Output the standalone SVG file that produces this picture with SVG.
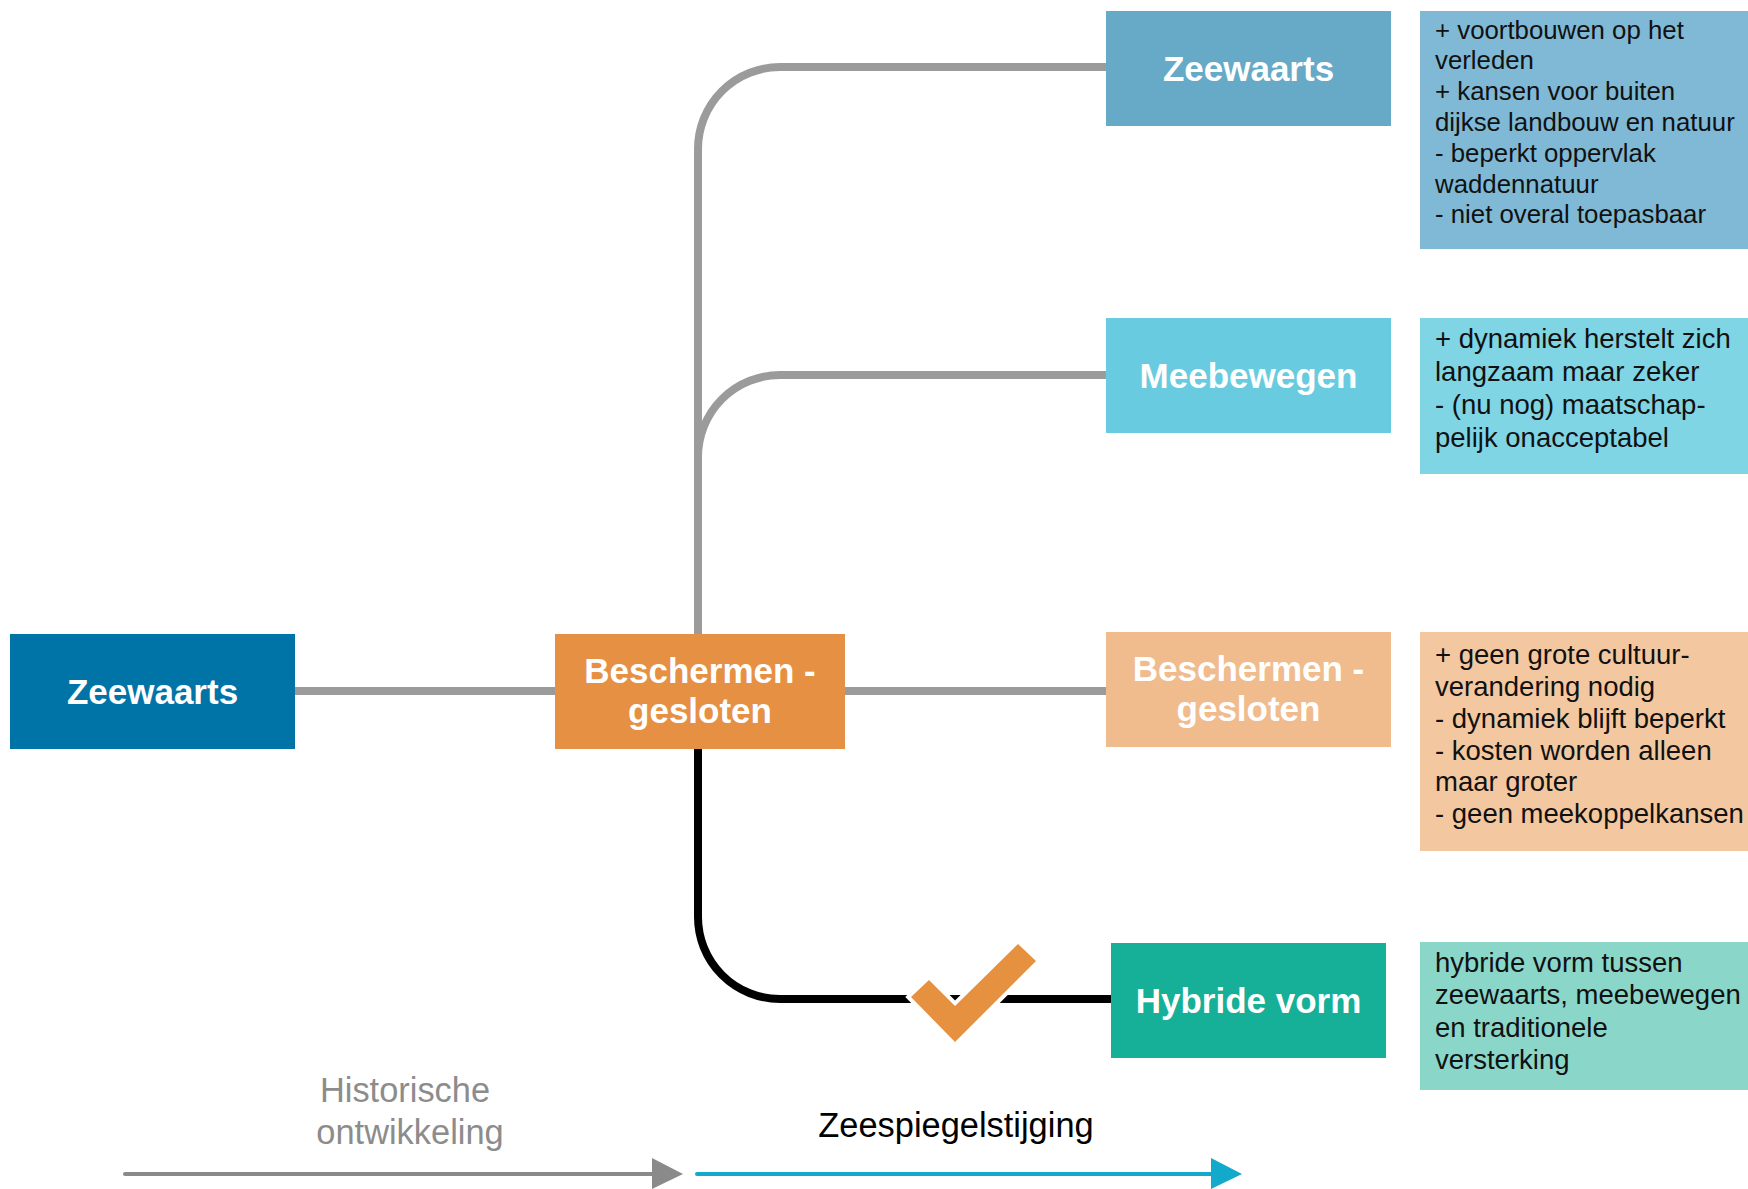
<svg xmlns="http://www.w3.org/2000/svg" width="1748" height="1189" viewBox="0 0 1748 1189">
  <style>
    .head { font-family: "Liberation Sans", Arial, sans-serif; font-weight: bold; font-size: 35px; fill: #ffffff; text-anchor: middle; }
    .body { font-family: "Liberation Sans", Arial, sans-serif; font-size: 27.5px; fill: #111111; }
    .body.small { font-size: 25.8px; }
    .link { fill: none; stroke: #9b9b9b; stroke-width: 8; }
    .chosen { fill: none; stroke: #000000; stroke-width: 8; }
    .axis { font-family: "Liberation Sans", Arial, sans-serif; font-size: 34.4px; text-anchor: middle; }
  </style>

  <rect width="1748" height="1189" fill="#ffffff"/>

  <!-- connectors -->
  <g id="connectors">
    <path class="link" d="M295,691 H555"/>
    <path class="link" d="M845,691 H1106"/>
    <path class="link" d="M698,634 V149 A82,82 0 0 1 780,67 H1106"/>
    <path class="link" d="M1106,375 H780 A82,82 0 0 0 698,457"/>
    <path class="chosen" d="M698,749 V917 A82,82 0 0 0 780,999 H1111"/>
  </g>

  <!-- check mark on the chosen route -->
  <g id="check">
    <polygon points="911,997 929,980 955,1006 1018,944 1036,961 955,1042" fill="#e69140" stroke="#ffffff" stroke-width="8" stroke-linejoin="miter" paint-order="stroke"/>
  </g>

  <!-- starting point -->
  <g id="start-zeewaarts">
    <rect x="10" y="634" width="285" height="115" fill="#0074a7"/>
    <text class="head" x="152.5" y="704">Zeewaarts</text>
  </g>

  <g id="current-beschermen">
    <rect x="555" y="634" width="290" height="115" fill="#e69043"/>
    <text class="head" x="700" y="683">Beschermen -</text>
    <text class="head" x="700" y="722.5">gesloten</text>
  </g>

  <!-- options -->
  <g id="opt-zeewaarts">
    <rect x="1106" y="11" width="285" height="115" fill="#66aac8"/>
    <text class="head" x="1248.5" y="81">Zeewaarts</text>
  </g>
  <g id="info-zeewaarts">
    <rect x="1420" y="11" width="328" height="238" fill="#80b9d5"/>
    <text class="body small" x="1435" y="38.5">+ voortbouwen op het</text>
    <text class="body small" x="1435" y="69.3">verleden</text>
    <text class="body small" x="1435" y="100.1">+ kansen voor buiten</text>
    <text class="body small" x="1435" y="130.9">dijkse landbouw en natuur</text>
    <text class="body small" x="1435" y="161.7">- beperkt oppervlak</text>
    <text class="body small" x="1435" y="192.5">waddennatuur</text>
    <text class="body small" x="1435" y="223.3">- niet overal toepasbaar</text>
  </g>

  <g id="opt-meebewegen">
    <rect x="1106" y="318" width="285" height="115" fill="#68cbdf"/>
    <text class="head" x="1248.5" y="388">Meebewegen</text>
  </g>
  <g id="info-meebewegen">
    <rect x="1420" y="318" width="328" height="156" fill="#80d5e5"/>
    <text class="body" x="1435" y="348">+ dynamiek herstelt zich</text>
    <text class="body" x="1435" y="381">langzaam maar zeker</text>
    <text class="body" x="1435" y="414">- (nu nog) maatschap-</text>
    <text class="body" x="1435" y="447">pelijk onacceptabel</text>
  </g>

  <g id="opt-beschermen">
    <rect x="1106" y="632" width="285" height="115" fill="#f0bc8e"/>
    <text class="head" x="1248.5" y="681">Beschermen -</text>
    <text class="head" x="1248.5" y="720.5">gesloten</text>
  </g>
  <g id="info-beschermen">
    <rect x="1420" y="632" width="328" height="219" fill="#f3c8a0"/>
    <text class="body" x="1435" y="664">+ geen grote cultuur-</text>
    <text class="body" x="1435" y="696">verandering nodig</text>
    <text class="body" x="1435" y="728">- dynamiek blijft beperkt</text>
    <text class="body" x="1435" y="759.5">- kosten worden alleen</text>
    <text class="body" x="1435" y="791">maar groter</text>
    <text class="body" x="1435" y="823">- geen meekoppelkansen</text>
  </g>

  <g id="opt-hybride">
    <rect x="1111" y="943" width="275" height="115" fill="#16af97"/>
    <text class="head" x="1248.5" y="1013">Hybride vorm</text>
  </g>
  <g id="info-hybride">
    <rect x="1420" y="942" width="328" height="148" fill="#8ad7c9"/>
    <text class="body" x="1435" y="972">hybride vorm tussen</text>
    <text class="body" x="1435" y="1004">zeewaarts, meebewegen</text>
    <text class="body" x="1435" y="1036.5">en traditionele</text>
    <text class="body" x="1435" y="1069">versterking</text>
  </g>

  <!-- time axis -->
  <g id="axis-history">
    <line x1="125" y1="1174" x2="656" y2="1174" stroke="#8a8a8a" stroke-width="4" stroke-linecap="round"/>
    <polygon points="652,1158 683,1174 652,1189" fill="#8a8a8a"/>
    <text class="axis" x="405" y="1102" fill="#8c8c8c" font-size="35.5">Historische</text>
    <text class="axis" x="410" y="1144" fill="#8c8c8c" font-size="35.5">ontwikkeling</text>
  </g>
  <g id="axis-sealevel">
    <line x1="697" y1="1174" x2="1214" y2="1174" stroke="#12a9ca" stroke-width="4" stroke-linecap="round"/>
    <polygon points="1211,1158 1242,1174 1211,1189" fill="#12a9ca"/>
    <text class="axis" x="956" y="1137" fill="#000000">Zeespiegelstijging</text>
  </g>
</svg>
